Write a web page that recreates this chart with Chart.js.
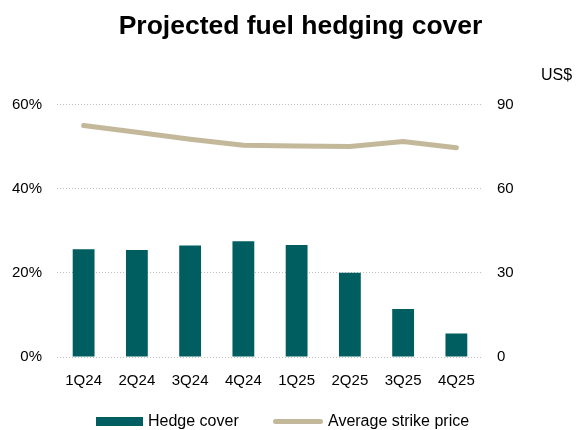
<!DOCTYPE html>
<html>
<head>
<meta charset="utf-8">
<script src="https://cdn.jsdelivr.net/npm/chart.js@4/dist/chart.umd.min.js"></script>
<style>
  html, body { margin: 0; padding: 0; background: #fff; }
  #wrap { position: relative; width: 577px; height: 430px; }
  #legend {
    position: absolute; left: 0; top: 411px; width: 577px; height: 20px;
    font-family: 'Liberation Sans', Arial, sans-serif; font-size: 16px; color: #000;
  }
  .item { position: absolute; top: 0; height: 20px; display: flex; align-items: center; white-space: nowrap; }
  .swatch { margin-right: 5px; }
</style>
</head>
<body>
<div id="wrap">
  <canvas id="hedgeChart"></canvas>
  <div id="legend"></div>
</div>
<script>
const quarters = ["1Q24", "2Q24", "3Q24", "4Q24", "1Q25", "2Q25", "3Q25", "4Q25"];
const hedgeCover = [25.6, 25.4, 26.5, 27.5, 26.6, 20.0, 11.4, 5.6];
const strikePrice = [82.5, 80.1, 77.6, 75.5, 75.2, 75.0, 76.8, 74.6];
const coverTicks = [0, 20, 40, 60];
const priceTicks = [0, 30, 60, 90];
const chartTitle = "Projected fuel hedging cover";

const fontFamily = "'Liberation Sans', Arial, sans-serif";
Chart.defaults.font.family = fontFamily;
Chart.defaults.color = "#000";

// title (sits a bit right of centre) and the "US$" unit above the right axis
const headerText = {
    id: "headerText",
    afterDraw(chart) {
        const ctx = chart.ctx;
        const right = chart.scales.yPrice;
        ctx.save();
        ctx.fillStyle = "#000";
        ctx.textBaseline = "middle";
        ctx.font = "bold 26.5px " + fontFamily;
        ctx.textAlign = "center";
        ctx.fillText(chartTitle, 300.5, 27);
        ctx.font = "16px " + fontFamily;
        ctx.textAlign = "left";
        ctx.fillText("US$", right.left + 58, chart.chartArea.top - 29);
        ctx.restore();
    },
};

const ctx = document.getElementById("hedgeChart").getContext("2d");
const chart = new Chart(ctx, {
    data: {
        labels: quarters,
        datasets: [
            {
                type: "line",
                label: "Average strike price",
                data: strikePrice,
                yAxisID: "yPrice",
                borderColor: "#C4B89A",
                backgroundColor: "#C4B89A",
                borderWidth: 5,
                borderCapStyle: "round",
                pointRadius: 0,
                tension: 0,
                order: 0,
            },
            {
                type: "bar",
                label: "Hedge cover",
                data: hedgeCover,
                yAxisID: "yCover",
                backgroundColor: "#005E60",
                borderWidth: 0,
                barPercentage: 0.41,
                categoryPercentage: 1,
                order: 1,
            },
        ],
    },
    options: {
        responsive: true,
        maintainAspectRatio: false,
        animation: false,
        layout: { padding: { top: 104.5, bottom: 0, left: 0, right: 0 } },
        plugins: {
            title: { display: false },
            legend: { display: false },
            tooltip: { enabled: false },
        },
        scales: {
            x: {
                grid: { display: false, drawTicks: false },
                border: { display: false },
                ticks: { font: { size: 15 }, padding: 15 },
                afterFit(scale) { scale.height = 73; },
            },
            yCover: {
                position: "left",
                min: 0,
                max: 60,
                afterFit(scale) { scale.width = 57; },
                afterBuildTicks(scale) {
                    scale.ticks = coverTicks.map((v) => ({ value: v }));
                },
                grid: {
                    color: "#BFBFBF",
                    lineWidth: 1,
                    drawTicks: false,
                },
                border: { display: false, dash: [1, 2] },
                ticks: {
                    font: { size: 15 },
                    padding: 15,
                    callback: (v) => v + "%",
                },
            },
            yPrice: {
                position: "right",
                min: 0,
                max: 90,
                afterFit(scale) { scale.width = 94; },
                afterBuildTicks(scale) {
                    scale.ticks = priceTicks.map((v) => ({ value: v }));
                },
                grid: { display: false, drawTicks: false },
                border: { display: false },
                ticks: { font: { size: 15 }, padding: 14 },
            },
        },
    },
    plugins: [headerText],
});

// legend in html, bar entry first then line entry
const legendEl = document.getElementById("legend");
const legendLeft = [96, 273];
[chart.data.datasets[1], chart.data.datasets[0]].forEach((ds, i) => {
    const item = document.createElement("div");
    item.className = "item";
    item.style.left = legendLeft[i] + "px";
    const sw = document.createElement("span");
    sw.className = "swatch";
    if (ds.type === "bar") {
        sw.style.cssText = "display:inline-block;width:47px;height:9px;background:" + ds.backgroundColor;
    } else {
        sw.style.cssText = "display:inline-block;width:50px;height:5px;border-radius:3px;background:" + ds.borderColor;
    }
    item.appendChild(sw);
    item.appendChild(document.createTextNode(ds.label));
    legendEl.appendChild(item);
});
</script>
</body>
</html>
